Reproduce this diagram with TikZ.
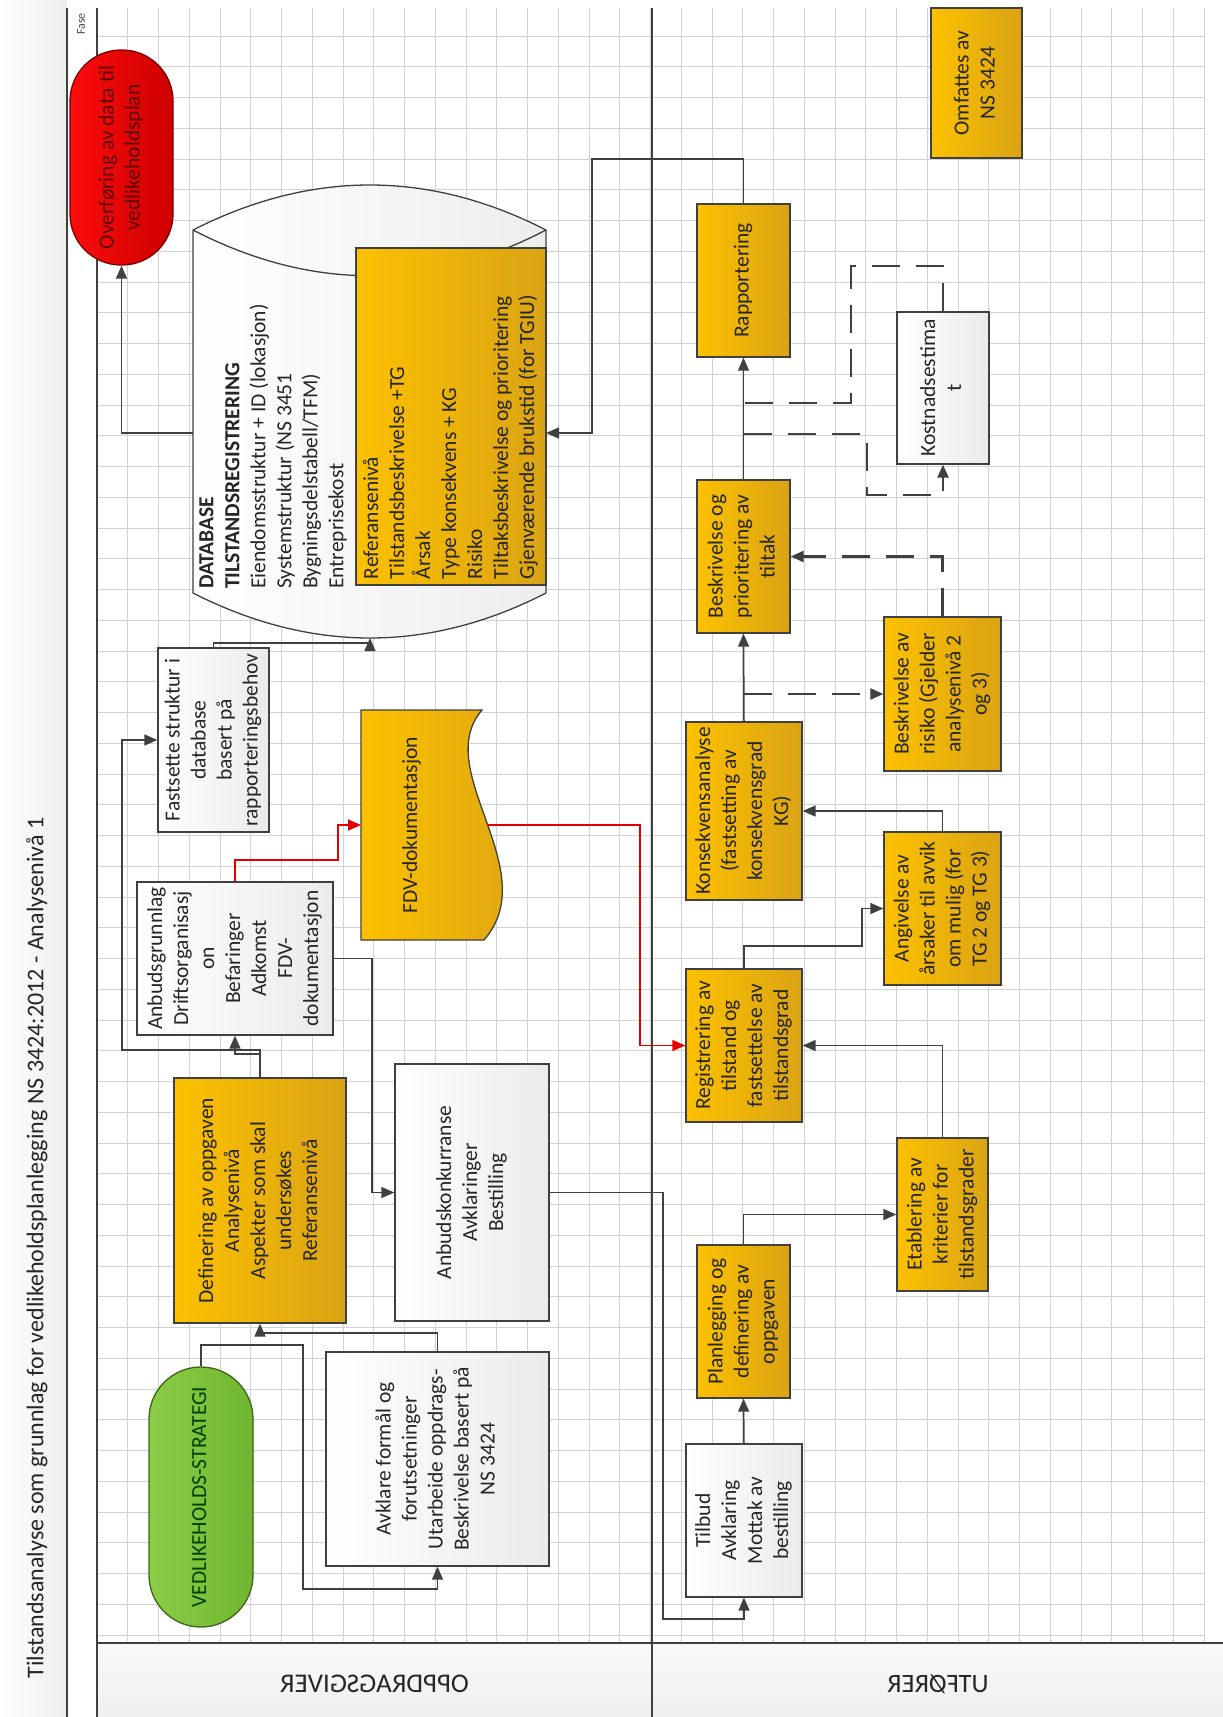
\documentclass[tikz,border=0pt]{standalone}
\usepackage{fontspec}
\setmainfont{Carlito}
\usepackage{graphicx}
\usetikzlibrary{arrows.meta}

\definecolor{lane}{RGB}{64,64,64}
\definecolor{goldL}{RGB}{252,193,0}
\definecolor{goldR}{RGB}{218,163,20}
\definecolor{redL}{RGB}{250,12,12}
\definecolor{redR}{RGB}{205,0,0}
\definecolor{redT}{RGB}{95,0,0}
\definecolor{grnL}{RGB}{140,204,70}
\definecolor{grnR}{RGB}{112,182,48}
\definecolor{txt}{RGB}{38,38,38}
\definecolor{gridc}{RGB}{210,210,210}
\definecolor{redline}{RGB}{228,0,0}

\newcommand{\vlines}[1]{\rotatebox{90}{\begin{tabular}{@{}c@{}}#1\end{tabular}}}
\newcommand{\vlinesl}[1]{\rotatebox{90}{\begin{tabular}{@{}l@{}}#1\end{tabular}}}

\tikzset{
  box/.style={draw=lane, line width=1.3pt, inner sep=2pt, text=txt, font=\fontsize{21.5}{26}\selectfont},
  goldbox/.style={box, left color=goldL, right color=goldR},
  whitebox/.style={box, left color=white, right color=gray!16},
  conn/.style={draw=lane, line width=1.5pt},
  arr/.style={conn, -{Triangle[length=13pt,width=11pt]}},
  dsh/.style={conn, line width=2.4pt, dash pattern=on 28pt off 16pt},
  darr/.style={dsh, -{Triangle[length=13pt,width=11pt]}},
  redarr/.style={draw=redline, line width=1.5pt, -{Triangle[length=13pt,width=11pt]}},
}

\begin{document}
\begin{tikzpicture}[x=1pt,y=-1pt]
			%%%%% START %%%%%
			\useasboundingbox (0,0) rectangle (1223,1717);
			\fill[white] (0,0) rectangle (1223,1717);
			
			% title strip and lane headers
			\shade[left color=white, right color=gray!14] (0,0) rectangle (67,1717);
			\shade[top color=gray!4, bottom color=gray!13] (97,1643) rectangle (1223,1717);
			\node[rotate=90, text=txt, font=\fontsize{24}{29}\selectfont] (title) at (37,1248) {Tilstandsanalyse som grunnlag for vedlikeholdsplanlegging NS 3424:2012 - Analysenivå 1};
			
			% grid
			\foreach \i in {1,...,36}
				\draw[gridc, line width=0.8pt] ({97+30.75*\i},8) -- ({97+30.75*\i},1643);
			\foreach \j in {1,...,53}
				\draw[gridc, line width=0.8pt] (97,{5.25+30.75*\j}) -- (1204,{5.25+30.75*\j});
			
			% pool lines
			\draw[lane, line width=1.5pt] (67,8) -- (67,1717);
			\draw[lane, line width=1.5pt] (97,8) -- (97,1717);
			\draw[lane, line width=1.5pt] (652,8) -- (652,1717);
			\draw[lane, line width=1.5pt] (97,1643) -- (1223,1643);
			
			\node[rotate=90, text=gray!60!black, font=\fontsize{12}{14}\selectfont] (fase) at (81,24) {Fase};
			\node[xscale=-1, text=gray!30!black, font=\fontsize{27}{31}\selectfont] (oppdr) at (374.5,1684) {OPPDRAGSGIVER};
			\node[xscale=-1, text=gray!30!black, font=\fontsize{26.5}{31}\selectfont] (utfor) at (938,1684) {UTFØRER};
			
			% database
			\shade[left color=white, right color=gray!14, draw=lane, line width=1.3pt] (193,230) .. controls (311,170) and (429,170) .. (546,230) -- (546,593) .. controls (429,653) and (311,653) .. (193,593) -- cycle;
			\draw[lane, line width=1.3pt] (193,230) .. controls (311,291) and (429,291) .. (546,230);
			\node[minimum width=353pt, minimum height=363pt, inner sep=0pt] (db) at (369.5,411.5) {};
			\coordinate (dbL) at (193,433);
			\coordinate (dbR) at (546,433);
			\coordinate (dbbot) at (370,638);
			\node[anchor=south west, inner sep=0pt, text=txt, font=\fontsize{21.5}{26}\selectfont] (dbtxt) at (195,589) {\vlinesl{\textbf{DATABASE}\\ \textbf{TILSTANDSREGISTRERING}\\ Eiendomsstruktur + ID (lokasjon)\\ Systemstruktur (NS 3451\\ Bygningsdelstabell/TFM)\\ Entreprisekost}};
			\node[goldbox, minimum width=190pt, minimum height=337pt] (dbin) at (451,416.5) {\rotatebox{90}{\begin{tabular}{@{}p{325pt}@{}}Referansenivå\\ Tilstandsbeskrivelse +TG\\ Årsak\\ Type konsekvens + KG\\ Risiko\\ Tiltaksbeskrivelse og prioritering\\ Gjenværende brukstid (for TGIU)\end{tabular}}};
			
			% terminators
			\node[box, rounded corners=51pt, minimum width=103pt, minimum height=215pt, left color=redL, right color=redR, draw=redR!60!black, text=redT] (overf) at (121.5,157.5) {\vlines{Overføring av data til\\ vedlikeholdsplan}};
			\node[box, rounded corners=52pt, minimum width=104pt, minimum height=260pt, left color=grnL, right color=grnR, draw=grnR!55!black, text=black!75!green] (strat) at (201,1497) {\vlines{VEDLIKEHOLDS-STRATEGI}};
			
			% oppdragsgiver
			\node[whitebox, minimum width=111pt, minimum height=184pt] (fast) at (213.5,740) {\vlines{Fastsette struktur i\\ database\\ basert på\\ rapporteringsbehov}};
			\node[whitebox, minimum width=196pt, minimum height=153pt] (anbg) at (235,958.5) {\vlines{Anbudsgrunnlag\\ Driftsorganisasj\\ on\\ Befaringer\\ Adkomst\\ FDV-\\ dokumentasjon}};
			\node[goldbox, minimum width=172pt, minimum height=245pt] (defin) at (260,1200.5) {\vlines{Definering av oppgaven\\ Analysenivå\\ Aspekter som skal\\ undersøkes\\ Referansenivå}};
			\node[whitebox, minimum width=154pt, minimum height=257pt] (anbk) at (472,1192.5) {\vlines{Anbudskonkurranse\\ Avklaringer\\ Bestilling}};
			\node[whitebox, minimum width=223pt, minimum height=214pt] (avkl) at (437.5,1459) {\vlines{Avklare formål og\\ forutsetninger\\ Utarbeide oppdrags-\\ Beskrivelse basert på\\ NS 3424}};
			
			\shade[left color=goldL, right color=goldR, draw=lane, line width=1.3pt] (361,710) -- (482,710) .. controls (430,770) and (545,870) .. (484,940) -- (361,940) -- cycle;
			\node[text=txt, font=\fontsize{21.5}{26}\selectfont] (fdv) at (412,825) {\vlines{FDV-dokumentasjon}};
			\coordinate (fdvL) at (361,825);
			\coordinate (fdvR) at (487,825);
			
			% utfoerer
			\node[goldbox, minimum width=91pt, minimum height=150pt] (omf) at (976.5,83) {\vlines{Omfattes av\\ NS 3424}};
			\node[goldbox, minimum width=93pt, minimum height=153pt] (rapp) at (743.5,280.5) {\vlines{Rapportering}};
			\node[whitebox, minimum width=92pt, minimum height=152pt] (kost) at (943,388) {\vlines{Kostnadsestima\\ t}};
			\node[goldbox, minimum width=93pt, minimum height=153pt] (beskr) at (743.5,556.5) {\vlines{Beskrivelse og\\ prioritering av\\ tiltak}};
			\node[goldbox, minimum width=117pt, minimum height=154pt] (risiko) at (942.5,694) {\vlines{Beskrivelse av\\ risiko (Gjelder\\ analysenivå 2\\ og 3)}};
			\node[goldbox, minimum width=116pt, minimum height=178pt] (kons) at (744,811) {\vlines{Konsekvensanalyse\\ (fastsetting av\\ konsekvensgrad\\ KG)}};
			\node[goldbox, minimum width=117pt, minimum height=153pt] (angiv) at (942.5,908.5) {\vlines{Angivelse av\\ årsaker til avvik\\ om mulig (for\\ TG 2 og TG 3)}};
			\node[goldbox, minimum width=116pt, minimum height=153pt] (regist) at (744,1045.5) {\vlines{Registrering av\\ tilstand og\\ fastsettelse av\\ tilstandsgrad}};
			\node[goldbox, minimum width=91pt, minimum height=153pt] (etabl) at (942.5,1214.5) {\vlines{Etablering av\\ kriterier for\\ tilstandsgrader}};
			\node[goldbox, minimum width=93pt, minimum height=153pt] (plan) at (743.5,1321.5) {\vlines{Planlegging og\\ definering av\\ oppgaven}};
			\node[whitebox, minimum width=116pt, minimum height=153pt] (tilbud) at (744,1520.5) {\vlines{Tilbud\\ Avklaring\\ Mottak av\\ bestilling}};
			
			% connectors
			\draw[arr] (dbL) -| (overf.south);
			\draw[arr] (rapp.north) |- (592,159) |- (dbR);
			\draw[dsh] (kost.north) |- (851,266) |- (744,403);
			\draw[darr] (744,434) -| (867,495) -| (kost.south);
			\draw[arr] (beskr.north) -- (rapp.south);
			\draw[darr] (risiko.north) |- (beskr.east);
			\draw[arr] (kons.north) -- (beskr.south);
			\draw[darr] (kons.north |- risiko.west) -- (risiko.west);
			\draw[arr] (angiv.north) |- (kons.east);
			\draw[arr] (regist.north) |- (862,946) |- (angiv.west);
			\draw[arr] (etabl.north) |- (regist.east);
			\draw[arr] (plan.north) |- (etabl.west);
			\draw[arr] (tilbud.north) -- (plan.south);
			\draw[arr] (anbk.east) -| (663,1400) |- (744,1619) -- (tilbud.south);
			\draw[arr] (anbg.east) -| (372,1100) |- (anbk.west);
			\draw[redarr] (anbg.north) |- (338,860) |- (fdvL);
			\draw[redarr] (fdvR) -| (640,900) |- (regist.west);
			\draw[arr] (defin.north) |- (235,1054) -- (anbg.south);
			\draw[arr] (defin.north) |- (122,1050) |- (fast.west);
			\draw[arr] (fast.north) |- (370,643) -- (dbbot);
			\draw[arr] (strat.north) |- (303,1345) |- (437.5,1589) -- (avkl.south);
			\draw[arr] (avkl.north) |- (260,1333) -- (defin.south);
			
			%%%%% END %%%%%
\end{tikzpicture}
\end{document}
